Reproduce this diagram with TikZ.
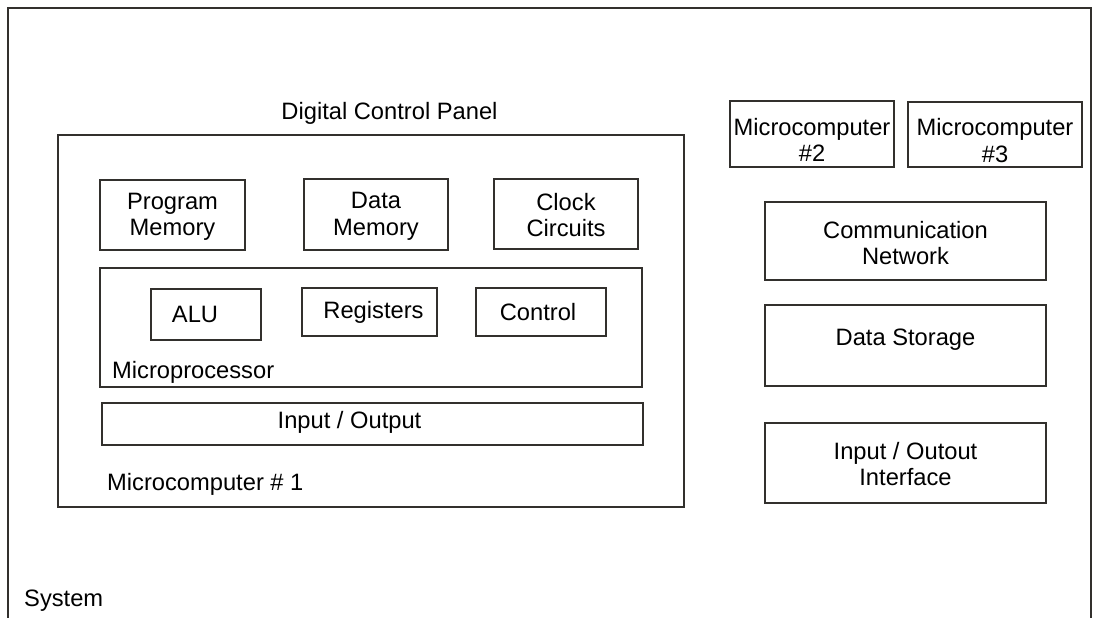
\documentclass[tikz,border=0pt]{standalone}
\usepackage{fontspec}
\setmainfont{Liberation Sans}
\definecolor{ink}{RGB}{50,48,45}
\begin{document}
\begin{tikzpicture}[x=1pt,y=-1pt,
  box/.style={draw=ink, line width=1.9pt, rectangle, inner sep=0pt, outer sep=0pt},
  txt/.style={text=black, inner sep=0pt, align=center,
    font=\fontsize{23.7}{26.5}\selectfont},
  lbl/.style={txt, anchor=base west}]
\useasboundingbox (0,0) rectangle (1100,618);
\clip (0,0) rectangle (1100,618);
\fill[white] (0,0) rectangle (1100,618);

% overall system frame
\node[box, minimum width=1083, minimum height=616] (sys) at (549.5,316) {};
\node[lbl] (systxt) at (24,606) {System};

% microcomputer #1 (digital control panel)
\node[box, minimum width=626, minimum height=372] (mc1) at (371,321) {};
\node[txt, anchor=base] (dcp) at (389.5,119) {Digital Control Panel};
\node[lbl] (mc1txt) at (107,490) {Microcomputer \# 1};

% memory and clock blocks
\node[box, minimum width=145, minimum height=70] (pm) at (172.5,215) {};
\node[txt] (pmtxt) at ([yshift=-2pt]pm.center) {Program\\Memory};
\node[box, minimum width=144, minimum height=71] (dm) at (376,214.5) {};
\node[txt] (dmtxt) at ([yshift=-2pt]dm.center) {Data\\Memory};
\node[box, minimum width=144, minimum height=70] (cc) at (566,214) {};
\node[txt] (cctxt) at ([yshift=-1pt]cc.center) {Clock\\Circuits};

% microprocessor
\node[box, minimum width=542, minimum height=119] (mp) at (371,327.5) {};
\node[lbl] (mptxt) at (112,378) {Microprocessor};
\node[box, minimum width=110, minimum height=51] (alu) at (206,314.5) {};
\node[txt] (alutxt) at ([xshift=-11pt]alu.center) {ALU};
\node[box, minimum width=135, minimum height=48] (reg) at (369.5,312) {};
\node[txt] (regtxt) at ([xshift=4pt]reg.center) {Registers};
\node[box, minimum width=130, minimum height=48] (ctl) at (541,312) {};
\node[txt] (ctltxt) at ([xshift=-3pt]ctl.center) {Control};

% input / output bus
\node[box, minimum width=541, minimum height=42] (io) at (372.5,424) {};
\node[txt] (iotxt) at ([xshift=-23pt,yshift=2pt]io.center) {Input / Output};

% other microcomputers
\node[box, minimum width=164, minimum height=66] (mc2) at (812,134) {};
\node[txt] (mc2txt) at ([yshift=-6pt]mc2.center) {Microcomputer\\\#2};
\node[box, minimum width=174, minimum height=65] (mc3) at (995,134.5) {};
\node[txt] (mc3txt) at ([yshift=-6pt]mc3.center) {Microcomputer\\\#3};

% shared services
\node[box, minimum width=281, minimum height=78] (cn) at (905.5,241) {};
\node[txt] (cntxt) at ([yshift=-2pt]cn.center) {Communication\\Network};
\node[box, minimum width=281, minimum height=81] (ds) at (905.5,345.5) {};
\node[txt] (dstxt) at ([yshift=6pt]ds.center) {Data Storage};
\node[box, minimum width=281, minimum height=80] (ioi) at (905.5,463) {};
\node[txt] (ioitxt) at ([yshift=-1pt]ioi.center) {Input / Outout\\Interface};
\end{tikzpicture}
\end{document}
